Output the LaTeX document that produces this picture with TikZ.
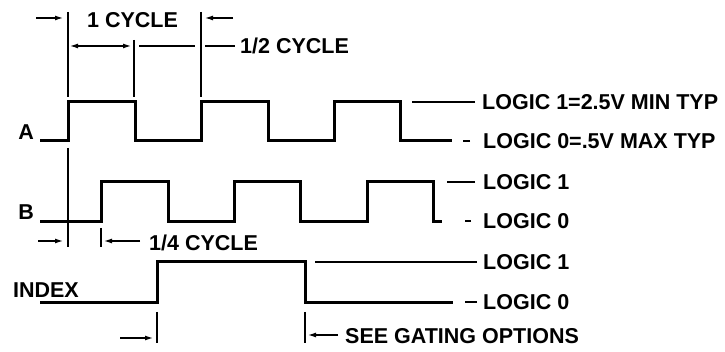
\documentclass[tikz,border=0pt]{standalone}
\usepackage{fontspec}
\setmainfont{Liberation Sans}
\usetikzlibrary{arrows.meta}

\tikzset{
    sig/.style={line width=3pt, line join=miter},
    dim/.style={line width=1.2pt},
    dimarrow/.style={dim, -{Latex[length=8pt,width=5pt]}},
    lbl/.style={inner sep=0pt, font=\fontsize{21.5}{25}\selectfont\bfseries},
}

\begin{document}
\begin{tikzpicture}[x=1pt,y=-1pt]
    \useasboundingbox (0,0) rectangle (725,352);
    % waveforms
    \draw[sig] (40,141) -- (68,141) -- (68,102) -- (135,102) -- (135,141) -- (201,141) -- (201,102)
        -- (268,102) -- (268,141) -- (334,141) -- (334,102) -- (400,102) -- (400,141) -- (452,141);
    \draw[sig] (40,222) -- (101,222) -- (101,182) -- (168,182) -- (168,222) -- (234,222) -- (234,182)
        -- (300,182) -- (300,222) -- (367,222) -- (367,182) -- (433,182) -- (433,222) -- (442,222);
    \draw[sig] (40,303) -- (157,303) -- (157,262) -- (305,262) -- (305,303) -- (453,303);
    % signal names
    \node[lbl, anchor=east] (nameA) at (34,132) {A};
    \node[lbl, anchor=east] (nameB) at (34,212) {B};
    \node[lbl, anchor=east] (nameIdx) at (79,290) {INDEX};
    % logic levels
    \node[lbl, anchor=west] (a1) at (482,102) {LOGIC 1=2.5V MIN TYP};
    \node[lbl, anchor=west] (a0) at (483,141) {LOGIC 0=.5V MAX TYP};
    \node[lbl, anchor=west] (b1) at (483,182) {LOGIC 1};
    \node[lbl, anchor=west] (b0) at (483,221) {LOGIC 0};
    \node[lbl, anchor=west] (i1) at (483,262) {LOGIC 1};
    \node[lbl, anchor=west] (i0) at (483,302) {LOGIC 0};
    \draw[dim] (a1.west) ++(-7,0) -- ++(-63,0);
    \draw[dim] (a0.west) ++(-13,0) -- ++(-7,0);
    \draw[dim] (b1.west) ++(-8,0) -- ++(-28,0);
    \draw[dim] (b0.west) ++(-12,0) -- ++(-6,0);
    \draw[dim] (i1.west) ++(-6,0) -- ++(-162,0);
    \draw[dim] (i0.west) ++(-6,0) -- ++(-12,0);
    % cycle marks
    \coordinate (tA) at (68,12);
    \coordinate (tHalf) at (134,40);
    \coordinate (tCyc) at (201,12);
    \coordinate (tB) at (101,228);
    \coordinate (tI0) at (157,312);
    \coordinate (tI1) at (305,312);
    \draw[dim] (tA) -- ++(0,85);
    \draw[dim] (68,148) -- (68,247);
    \draw[dim] (tHalf) -- ++(0,57);
    \draw[dim] (tCyc) -- ++(0,85);
    \draw[dim] (tB) -- ++(0,19);
    \draw[dim] (tI0) -- ++(0,31);
    \draw[dim] (tI1) -- ++(0,31);
    \node[lbl, anchor=west] (cyc) at (87,20) {1 CYCLE};
    \node[lbl, anchor=west] (half) at (240,46) {1/2 CYCLE};
    \node[lbl, anchor=west] (quarter) at (149,243) {1/4 CYCLE};
    \node[lbl, anchor=west] (gate) at (345,336) {SEE GATING OPTIONS};
    \draw[dimarrow] (tA) ++(-32,6) -- ++(27,0);
    \draw[dimarrow] (tCyc) ++(32,6) -- ++(-28,0);
    \draw[dim, {Latex[length=8pt,width=5pt]}-{Latex[length=8pt,width=5pt]}] (tA) ++(2,34) -- ++(61,0);
    \draw[dim] (tHalf) ++(5,6) -- ++(56,0);
    \draw[dim] (tCyc) ++(4,34) -- ++(30,0);
    \draw[dimarrow] (tB) ++(-63,13) -- ++(25,0);
    \draw[dimarrow] (quarter.west) ++(-9,-2) -- (104,241);
    \draw[dimarrow] (tI0) ++(-37,26) -- ++(33,0);
    \draw[dimarrow] (gate.west) ++(-7,-1) -- (308,335);
\end{tikzpicture}
\end{document}
